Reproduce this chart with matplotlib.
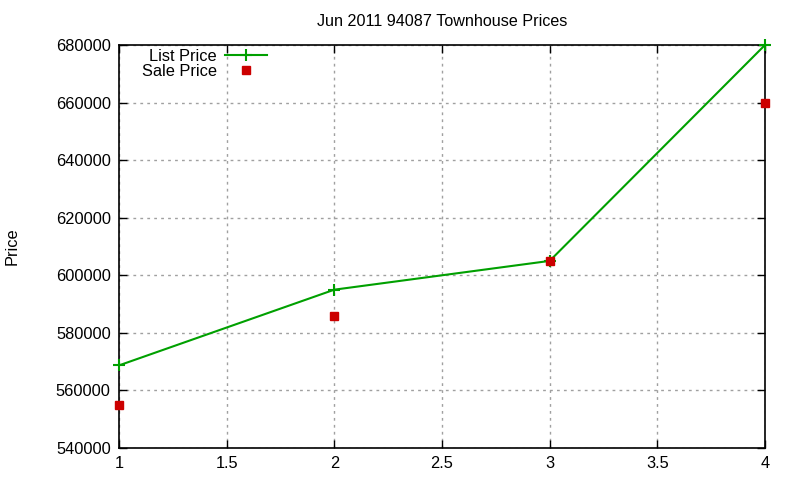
import matplotlib
matplotlib.use("Agg")
import matplotlib.pyplot as plt
from matplotlib.ticker import MultipleLocator, FuncFormatter

plt.rcParams['font.family'] = ['Liberation Sans', 'DejaVu Sans']

x_vals = [1, 2, 3, 4]
list_price = [568700, 595000, 605000, 680000]
sale_price = [555000, 586000, 605000, 660000]
title = "Jun 2011 94087 Townhouse Prices"
ylabel = "Price"

fig = plt.figure(figsize=(8, 4.8), dpi=100)
ax = fig.add_axes([119/800, 1-448/480, (765-119)/800, (448-45)/480])

ax.plot(x_vals, list_price, color='#00a000', lw=1.5, marker='+', ms=8, mew=1.5, label='List Price', zorder=3, clip_on=False)
ax.plot(x_vals, sale_price, color='#cc0000', ls='none', marker='s', ms=6, label='Sale Price', zorder=4, clip_on=False)

ax.set_xlim(1, 4)
ax.set_ylim(540000, 680000)
ax.xaxis.set_major_locator(MultipleLocator(0.5))
ax.yaxis.set_major_locator(MultipleLocator(20000))
ax.xaxis.set_major_formatter(FuncFormatter(lambda v, p: f"{v:g}"))
ax.yaxis.set_major_formatter(FuncFormatter(lambda v, p: f"{int(v)}"))
ax.tick_params(direction='in', length=6, width=1, top=True, right=True, labelsize=11.8, pad=6)
ax.grid(True, color='#a0a0a0', ls=(0, (2, 3)), lw=1)
for s in ax.spines.values():
    s.set_linewidth(1.2)

ax.set_title(title, fontsize=11.6, pad=14)
fig.text(12/800, 1-246/480, ylabel, rotation=90, ha='center', va='center', fontsize=11.8)

leg = ax.legend(loc='upper left', bbox_to_anchor=(135/800, 1-42/480), bbox_transform=fig.transFigure,
                frameon=False, markerfirst=False, fontsize=11.8, handlelength=2.6, handletextpad=0.5,
                labelspacing=0.0, borderaxespad=0)
for t in leg.get_texts():
    t.set_ha('right')

fig.savefig('out.png', dpi=100)
